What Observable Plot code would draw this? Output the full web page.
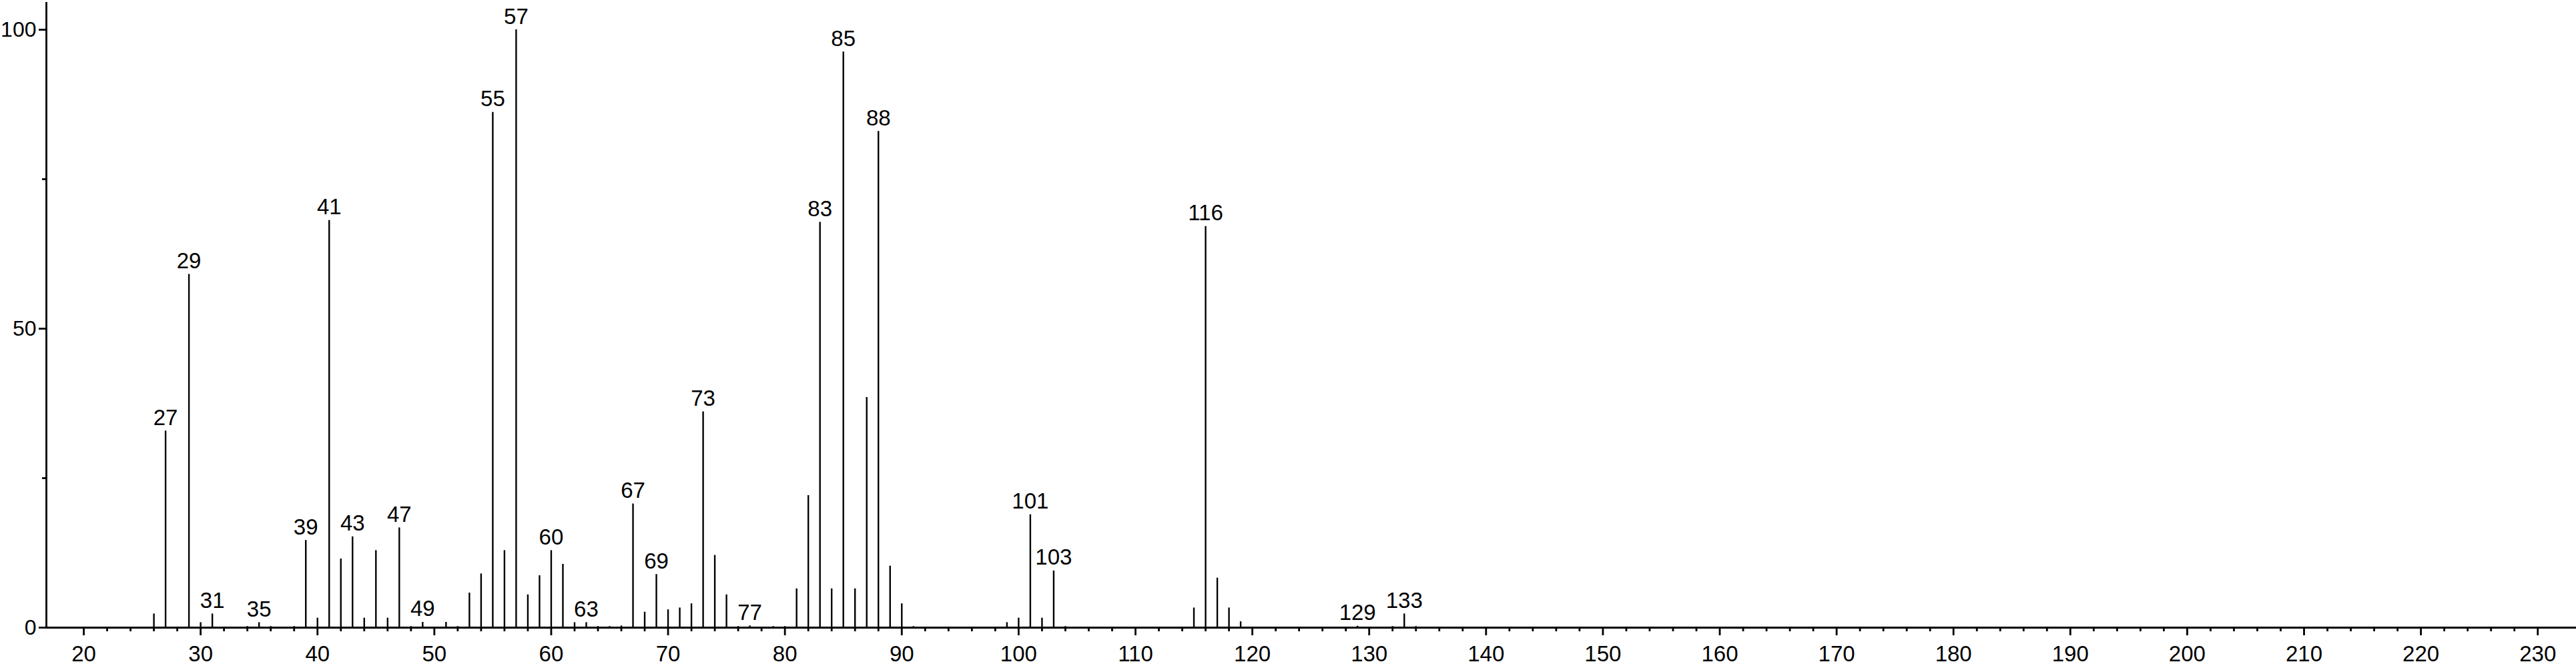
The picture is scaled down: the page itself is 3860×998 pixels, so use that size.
<!DOCTYPE html>
<html>
<head>
<meta charset="utf-8">
<script src="https://cdn.jsdelivr.net/npm/d3@7"></script>
<script src="https://cdn.jsdelivr.net/npm/@observablehq/plot@0.6"></script>
<style>
  html, body { margin: 0; padding: 0; background: #ffffff; }
  #chart svg { display: block; }
</style>
</head>
<body>
<div id="chart"></div>
<script>
// m/z values of the peaks
const mz = [26, 27, 29, 30, 31, 34, 35, 36, 38, 39, 40, 41, 42, 43, 44, 45, 46, 47, 48, 49,
            51, 52, 53, 54, 55, 56, 57, 58, 59, 60, 61, 62, 63, 64, 65, 66, 67, 68, 69, 70,
            71, 72, 73, 74, 75, 76, 77, 79, 80, 81, 82, 83, 84, 85, 86, 87, 88, 89, 90, 91,
            99, 100, 101, 102, 103, 104, 114, 115, 116, 117, 118, 119, 129, 132, 133, 134];
// relative intensities (%)
const intensity = [2.3, 32.9, 59.1, 0.85, 2.3, 0.2, 0.85, 0.2, 0.2, 14.6, 1.6, 68.1, 11.5, 15.2, 1.6, 12.9, 1.6, 16.7, 0.2, 0.9,
                   0.9, 0.2, 5.8, 9.0, 86.2, 12.9, 100, 5.5, 8.7, 12.9, 10.6, 0.85, 0.85, 0.2, 0.2, 0.3, 20.7, 2.6, 8.9, 3.0,
                   3.3, 4.0, 36.1, 12.1, 5.5, 0.2, 0.3, 0.2, 0.2, 6.5, 22.1, 67.8, 6.5, 96.3, 6.5, 38.5, 83.0, 10.3, 4.0, 0.2,
                   0.85, 1.6, 18.9, 1.6, 9.5, 0.2, 0.1, 3.3, 67.1, 8.3, 3.3, 1.0, 0.25, 0.2, 2.3, 0.2];
// peaks that carry an m/z label
const labeledPeaks = [27, 29, 31, 35, 39, 41, 43, 47, 49, 55, 57, 60, 63, 67, 69, 73, 77,
                      83, 85, 88, 101, 103, 116, 129, 133];
// axis ticks
const xMajorTicks = [20, 30, 40, 50, 60, 70, 80, 90, 100, 110, 120, 130, 140, 150, 160,
                     170, 180, 190, 200, 210, 220, 230];
const xMinorTicks = d3.range(20, 231, 2).filter(v => v % 10 !== 0);
const yMajorTicks = [0, 50, 100];
const yMinorTicks = [25, 75];

const peaks = mz.map((m, i) => ({mz: m, intensity: intensity[i]}));
const labeled = peaks.filter(d => labeledPeaks.includes(d.mz));

const xDomain = [16.8, 233.3];
const yDomain = [0, 104.58];

const chart = Plot.plot({
  width: 3860,
  height: 998,
  marginLeft: 69,
  marginRight: 0,
  marginTop: 3,
  marginBottom: 58,
  x: {domain: xDomain, label: null},
  y: {domain: yDomain, label: null},
  style: {
    fontFamily: "'Liberation Sans', Arial, Helvetica, sans-serif",
    fontSize: "33px",
    background: "#ffffff",
    color: "#000000"
  },
  marks: [
    Plot.ruleX(peaks, {x: "mz", y1: 0, y2: "intensity", stroke: "#000", strokeWidth: 2.4}),
    Plot.ruleY([0], {stroke: "#000", strokeWidth: 2.8}),
    Plot.ruleX([xDomain[0]], {stroke: "#000", strokeWidth: 2.8}),
    Plot.axisX({ticks: xMajorTicks, tickSize: 12, tickPadding: 15, strokeWidth: 2.8,
                fontSize: 33, tickFormat: d => String(d), label: null}),
    Plot.axisX({ticks: xMinorTicks, tickSize: 6, strokeWidth: 2.8, tickFormat: () => "", label: null}),
    Plot.axisY({ticks: yMajorTicks, tickSize: 11, tickPadding: 4, strokeWidth: 2.8,
                fontSize: 32, tickFormat: d => String(d), label: null}),
    Plot.axisY({ticks: yMinorTicks, tickSize: 6, strokeWidth: 2.8, tickFormat: () => "", label: null}),
    Plot.text(labeled, {x: "mz", y: "intensity", text: d => String(d.mz),
                        lineAnchor: "bottom", dy: -9, fontSize: 33, fill: "#000"})
  ]
});

document.getElementById("chart").appendChild(chart);
</script>
</body>
</html>
